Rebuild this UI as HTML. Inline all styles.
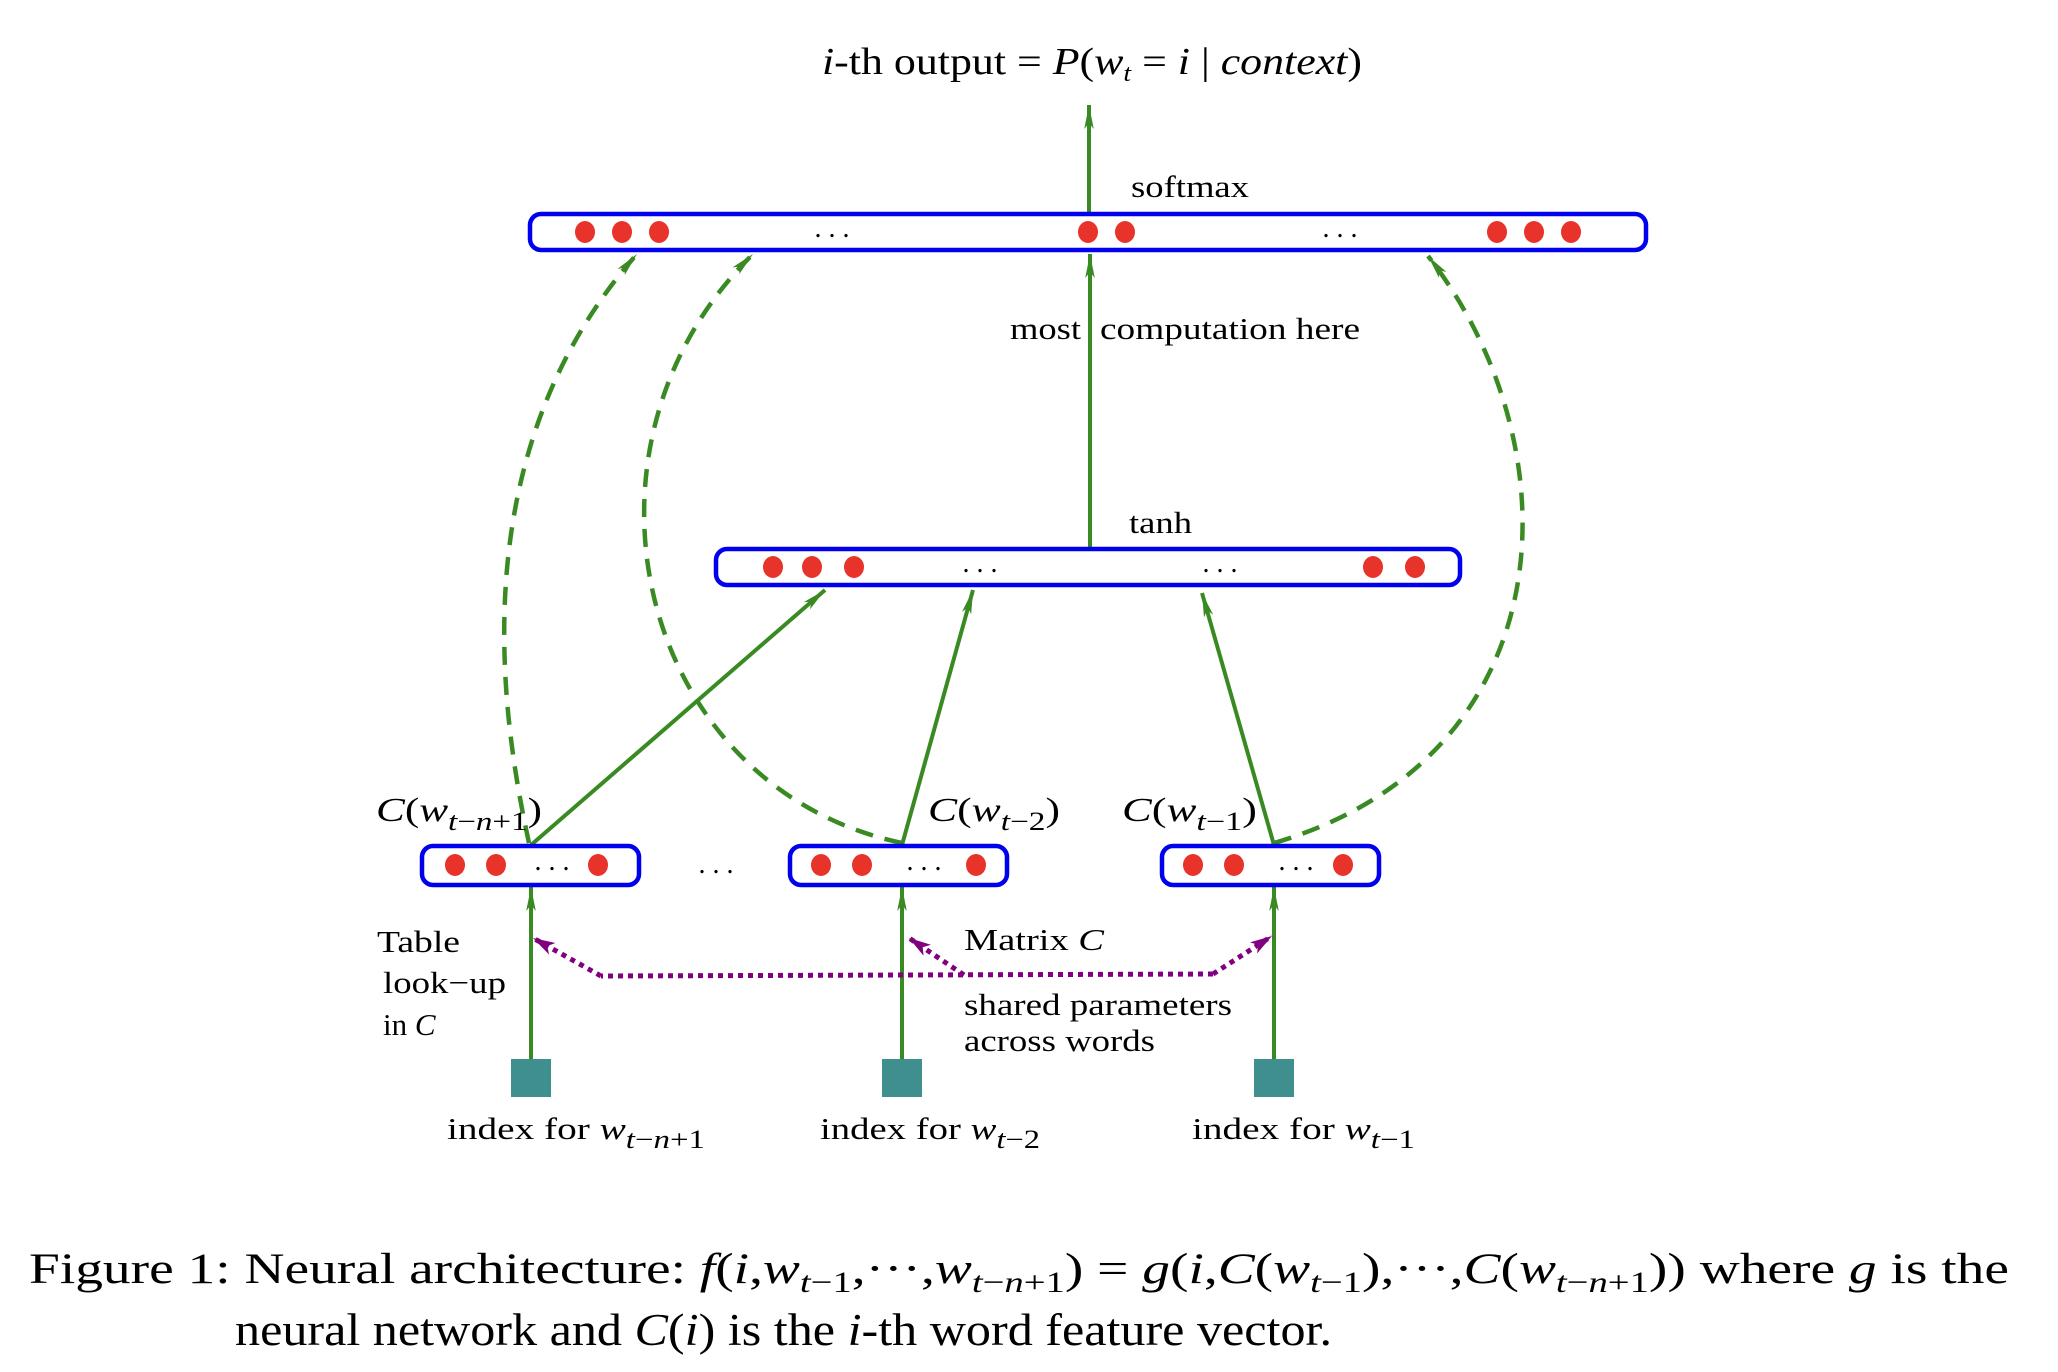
<!DOCTYPE html>
<html><head><meta charset="utf-8"><style>
html,body{margin:0;padding:0;background:#fff;}
svg{display:block;}
text{font-family:"Liberation Serif",serif;fill:#000;}
</style></head><body>
<svg width="2058" height="1372" viewBox="0 0 2058 1372" xmlns="http://www.w3.org/2000/svg">
<defs>
<marker id="ga" viewBox="0 0 20 10" refX="20" refY="5" markerWidth="24" markerHeight="12" orient="auto" markerUnits="userSpaceOnUse">
<path d="M0,1 L20,5 L0,9 L5,5 z" fill="#3a8a23"/></marker>
<marker id="pa" viewBox="0 0 20 12" refX="20" refY="6" markerWidth="22" markerHeight="14" orient="auto" markerUnits="userSpaceOnUse">
<path d="M0,0 L20,6 L0,12 L5,6 z" fill="#800080"/></marker>
</defs>
<g transform="translate(-3,-3)">
<!-- title -->
<text x="825" y="77" font-size="38" textLength="540" lengthAdjust="spacingAndGlyphs"><tspan font-style="italic">i</tspan>-th output = <tspan font-style="italic">P</tspan>(<tspan font-style="italic">w</tspan><tspan font-style="italic" font-size="24" dy="7">t</tspan><tspan dy="-7">  =  </tspan><tspan font-style="italic">i</tspan> | <tspan font-style="italic">context</tspan>)</text>

<g stroke="#3a8a23" stroke-width="4" fill="none">
<line x1="1092" y1="215" x2="1092" y2="108" marker-end="url(#ga)"/>
<line x1="1093" y1="551" x2="1093" y2="257" marker-end="url(#ga)"/>
<line x1="534" y1="848" x2="828" y2="593" marker-end="url(#ga)"/>
<line x1="905" y1="848" x2="976" y2="593" marker-end="url(#ga)"/>
<line x1="1277" y1="848" x2="1205" y2="596" marker-end="url(#ga)"/>
<line x1="534" y1="1062" x2="534" y2="890" marker-end="url(#ga)"/>
<line x1="905" y1="1062" x2="905" y2="890" marker-end="url(#ga)"/>
<line x1="1277" y1="1062" x2="1277" y2="890" marker-end="url(#ga)"/>
</g>
<g stroke="#3a8a23" stroke-width="4.5" fill="none" stroke-dasharray="18 12">
<path d="M532,846 C500,700 470,450 640,257" marker-end="url(#ga)"/>
<path d="M905,846 C640,790 560,450 756,257" marker-end="url(#ga)"/>
<path d="M1277,846 C1570,760 1580,450 1431,259" marker-end="url(#ga)"/>
</g>

<g stroke="#0000ee" stroke-width="4.5" fill="none">
<rect x="533" y="217" width="1116" height="36" rx="11"/>
<rect x="719" y="552" width="744" height="36" rx="11"/>
<rect x="425" y="849" width="217" height="39" rx="11"/>
<rect x="793" y="849" width="217" height="39" rx="11"/>
<rect x="1165" y="849" width="217" height="39" rx="11"/>
</g>
<g fill="#e8332a">
<ellipse cx="588" cy="235" rx="10" ry="11"/><ellipse cx="625" cy="235" rx="10" ry="11"/><ellipse cx="662" cy="235" rx="10" ry="11"/>
<ellipse cx="1091" cy="235" rx="10" ry="11"/><ellipse cx="1128" cy="235" rx="10" ry="11"/>
<ellipse cx="1500" cy="235" rx="10" ry="11"/><ellipse cx="1537" cy="235" rx="10" ry="11"/><ellipse cx="1574" cy="235" rx="10" ry="11"/>
<ellipse cx="776" cy="570" rx="10" ry="11"/><ellipse cx="815" cy="570" rx="10" ry="11"/><ellipse cx="857" cy="570" rx="10" ry="11"/>
<ellipse cx="1376" cy="570" rx="10" ry="11"/><ellipse cx="1418" cy="570" rx="10" ry="11"/>
<ellipse cx="458" cy="868" rx="10" ry="11"/><ellipse cx="499" cy="868" rx="10" ry="11"/><ellipse cx="601" cy="868" rx="10" ry="11"/>
<ellipse cx="824" cy="868" rx="10" ry="11"/><ellipse cx="865" cy="868" rx="10" ry="11"/><ellipse cx="979" cy="868" rx="10" ry="11"/>
<ellipse cx="1196" cy="868" rx="10" ry="11"/><ellipse cx="1237" cy="868" rx="10" ry="11"/><ellipse cx="1346" cy="868" rx="10" ry="11"/>
</g>
<g font-size="28" text-anchor="middle">
<text x="835" y="240">. . .</text><text x="1343" y="240">. . .</text>
<text x="983" y="575">. . .</text><text x="1223" y="575">. . .</text>
<text x="555" y="873">. . .</text><text x="927" y="873">. . .</text><text x="1299" y="873">. . .</text>
<text x="719" y="876">. . .</text>
</g>

<g fill="#3f8f8f">
<rect x="514" y="1062" width="40" height="38"/><rect x="885" y="1062" width="40" height="38"/><rect x="1257" y="1062" width="40" height="38"/>
</g>

<g stroke="#800080" stroke-width="5" fill="none" stroke-dasharray="5 5">
<polyline points="1216,977 604,979"/>
<line x1="604" y1="979" x2="536" y2="941" marker-end="url(#pa)"/>
<line x1="967" y1="978" x2="912" y2="941" marker-end="url(#pa)"/>
<line x1="1216" y1="977" x2="1275" y2="939" marker-end="url(#pa)"/>
</g>

<g font-size="31">
<text x="1134" y="200" textLength="118" lengthAdjust="spacingAndGlyphs">softmax</text>
<text x="1013" y="342" textLength="71" lengthAdjust="spacingAndGlyphs">most</text>
<text x="1103" y="342" textLength="260" lengthAdjust="spacingAndGlyphs">computation here</text>
<text x="1132" y="536" textLength="63" lengthAdjust="spacingAndGlyphs">tanh</text>
<text x="379" y="824" font-size="34" textLength="166" lengthAdjust="spacingAndGlyphs"><tspan font-style="italic">C</tspan>(<tspan font-style="italic">w</tspan><tspan font-style="italic" font-size="26" dy="9">t</tspan><tspan font-size="26">−</tspan><tspan font-style="italic" font-size="26">n</tspan><tspan font-size="26">+1</tspan><tspan dy="-9">)</tspan></text>
<text x="931" y="824" font-size="34" textLength="132" lengthAdjust="spacingAndGlyphs"><tspan font-style="italic">C</tspan>(<tspan font-style="italic">w</tspan><tspan font-style="italic" font-size="26" dy="9">t</tspan><tspan font-size="26">−2</tspan><tspan dy="-9">)</tspan></text>
<text x="1125" y="824" font-size="34" textLength="135" lengthAdjust="spacingAndGlyphs"><tspan font-style="italic">C</tspan>(<tspan font-style="italic">w</tspan><tspan font-style="italic" font-size="26" dy="9">t</tspan><tspan font-size="26">−1</tspan><tspan dy="-9">)</tspan></text>
<text x="380" y="955" textLength="83" lengthAdjust="spacingAndGlyphs">Table</text>
<text x="386" y="996" textLength="123" lengthAdjust="spacingAndGlyphs">look−up</text>
<text x="386" y="1038">in <tspan font-style="italic">C</tspan></text>
<text x="967" y="953" textLength="140" lengthAdjust="spacingAndGlyphs">Matrix <tspan font-style="italic">C</tspan></text>
<text x="967" y="1018" textLength="268" lengthAdjust="spacingAndGlyphs">shared parameters</text>
<text x="967" y="1054" textLength="191" lengthAdjust="spacingAndGlyphs">across words</text>
<text x="450" y="1142" textLength="258" lengthAdjust="spacingAndGlyphs">index for <tspan font-style="italic">w</tspan><tspan font-style="italic" font-size="26" dy="9">t</tspan><tspan font-size="26">−</tspan><tspan font-style="italic" font-size="26">n</tspan><tspan font-size="26">+1</tspan></text>
<text x="823" y="1142" textLength="220" lengthAdjust="spacingAndGlyphs">index for <tspan font-style="italic">w</tspan><tspan font-style="italic" font-size="26" dy="9">t</tspan><tspan font-size="26">−2</tspan></text>
<text x="1195" y="1142" textLength="223" lengthAdjust="spacingAndGlyphs">index for  <tspan font-style="italic">w</tspan><tspan font-style="italic" font-size="26" dy="9">t</tspan><tspan font-size="26">−1</tspan></text>
</g>

<g font-size="43">
<text x="32" y="1286" textLength="1980" lengthAdjust="spacingAndGlyphs">Figure 1:  Neural architecture: <tspan font-style="italic">f</tspan>(<tspan font-style="italic">i</tspan>,<tspan font-style="italic">w</tspan><tspan font-size="30" dy="9"><tspan font-style="italic">t</tspan>−1</tspan><tspan dy="-9">,···,</tspan><tspan font-style="italic">w</tspan><tspan font-size="30" dy="9"><tspan font-style="italic">t</tspan>−<tspan font-style="italic">n</tspan>+1</tspan><tspan dy="-9">) = </tspan><tspan font-style="italic">g</tspan>(<tspan font-style="italic">i</tspan>,<tspan font-style="italic">C</tspan>(<tspan font-style="italic">w</tspan><tspan font-size="30" dy="9"><tspan font-style="italic">t</tspan>−1</tspan><tspan dy="-9">),···,</tspan><tspan font-style="italic">C</tspan>(<tspan font-style="italic">w</tspan><tspan font-size="30" dy="9"><tspan font-style="italic">t</tspan>−<tspan font-style="italic">n</tspan>+1</tspan><tspan dy="-9">)) where </tspan><tspan font-style="italic">g</tspan> is the</text>
<text x="238" y="1348" font-size="45" textLength="1097" lengthAdjust="spacingAndGlyphs">neural network and <tspan font-style="italic">C</tspan>(<tspan font-style="italic">i</tspan>) is the <tspan font-style="italic">i</tspan>-th word feature vector.</text>
</g>
</g>
</svg>
</body></html>
